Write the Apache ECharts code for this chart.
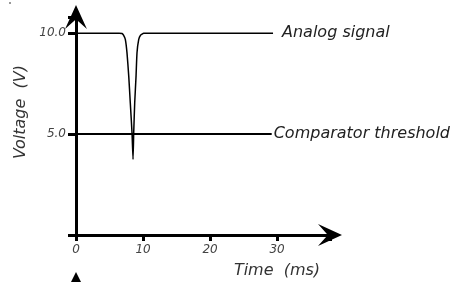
<!DOCTYPE html>
<html>
<head>
<meta charset="UTF-8">
<title>Analog signal vs comparator threshold</title>
<script src="https://cdn.jsdelivr.net/npm/echarts@6/dist/echarts.min.js"></script>
<style>
  html, body { margin: 0; padding: 0; background: #fff; }
  #chart { width: 467px; height: 282px; }
</style>
</head>
<body>
<div id="chart"></div>
<script>
// signal samples: [time ms, voltage V]
const signalTime    = [0, 6.42, 6.87, 7.09, 7.36, 7.61, 7.87, 8.10, 8.36, 8.51, 8.61, 8.76, 8.96, 9.10, 9.36, 9.63, 10.1, 29.4];
const signalVoltage = [10, 10, 9.98, 9.9, 9.69, 9.02, 7.87, 6.55, 5.06, 3.75, 5.06, 6.55, 7.87, 9.02, 9.69, 9.9, 9.99, 10];
const thresholdTime    = [0, 29.2];
const thresholdVoltage = [5, 5];
const xTicks = [0, 10, 20, 30];
const yTicks = [5, 10];

const arrow = 'path://M10,0 L20,22 L10,13 L0,22 Z';
const font = '"DejaVu Sans", Verdana, sans-serif';

const chart = echarts.init(document.getElementById('chart'));
chart.setOption({
  animation: false,
  grid: { left: 76, right: 137, top: 17, bottom: 47, outerBoundsMode: 'none', containLabel: false },
  xAxis: {
    type: 'value', min: 0, max: 37.9, interval: 10,
    splitLine: { show: false },
    axisLine: { lineStyle: { color: '#000', width: 3 }, symbol: ['none', arrow], symbolSize: [22, 24] },
    axisTick: { show: true, length: 6, lineStyle: { color: '#000', width: 3 } },
    axisLabel: {
      margin: 9, color: '#444', fontStyle: 'italic', fontSize: 12, fontFamily: font,
      formatter: v => xTicks.includes(v) ? String(v) : ''
    },
    name: 'Time  (ms)', nameLocation: 'middle', nameGap: 28,
    nameTextStyle: { color: '#333', fontStyle: 'italic', fontSize: 16, fontFamily: font, padding: [0, 0, 0, 148] }
  },
  yAxis: {
    type: 'value', min: 0, max: 10.8, interval: 5,
    splitLine: { show: false },
    axisLine: { lineStyle: { color: '#000', width: 3 }, symbol: ['none', arrow], symbolSize: [22, 24] },
    axisTick: { show: true, length: 8, lineStyle: { color: '#000', width: 3 } },
    axisLabel: {
      margin: 10, color: '#444', fontStyle: 'italic', fontSize: 12, fontFamily: font,
      formatter: v => yTicks.includes(v) ? v.toFixed(1) : ''
    },
    name: 'Voltage  (V)', nameLocation: 'middle', nameGap: 44, nameRotate: 90,
    nameTextStyle: { color: '#333', fontStyle: 'italic', fontSize: 16, fontFamily: font, padding: [0, 0, 0, 28] }
  },
  series: [
    {
      type: 'line', name: 'Analog signal', showSymbol: false, smooth: 0.15,
      data: signalTime.map((t, i) => [t, signalVoltage[i]]),
      lineStyle: { color: '#000', width: 1.5 },
      endLabel: { show: true, formatter: 'Analog signal', distance: 9,
        color: '#222', fontStyle: 'italic', fontSize: 16, fontFamily: font }
    },
    {
      type: 'line', name: 'Comparator threshold', showSymbol: false,
      data: thresholdTime.map((t, i) => [t, thresholdVoltage[i]]),
      lineStyle: { color: '#000', width: 2 },
      endLabel: { show: true, formatter: 'Comparator threshold', distance: 2,
        color: '#222', fontStyle: 'italic', fontSize: 16, fontFamily: font }
    }
  ],
  graphic: [
    { type: 'polygon', shape: { points: [[76, 272], [81, 282], [71, 282]] }, style: { fill: '#000' } },
    { type: 'rect', shape: { x: 9, y: 2, width: 2, height: 2 }, style: { fill: '#999' } }
  ]
});
</script>
</body>
</html>
